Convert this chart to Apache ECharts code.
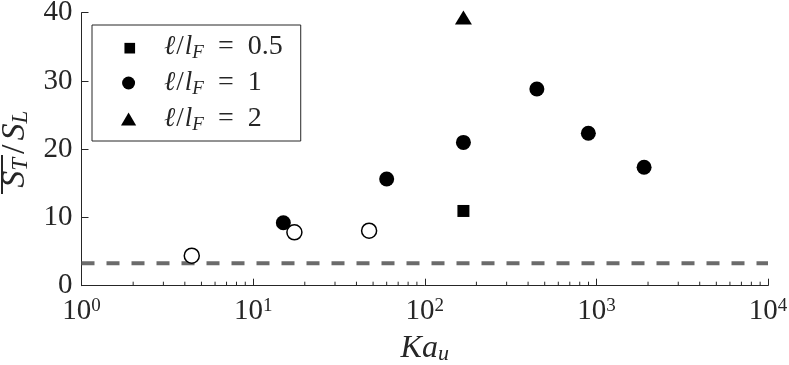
<!DOCTYPE html>
<html>
<head>
<meta charset="utf-8">
<script src="https://cdn.jsdelivr.net/npm/echarts@6/dist/echarts.min.js"></script>
<style>
  html, body { margin: 0; padding: 0; background: #fff; }
  #chart { width: 789px; height: 365px; }
</style>
</head>
<body>
<div id="chart"></div>
<script>
// values
const kaHalf = [168]
const stHalf = [10.95]
const kaOne = [15.0, 60.0, 168, 450, 898, 1897]
const stOne = [9.23, 15.63, 21.0, 28.82, 22.33, 17.35]
const kaTwo = [168]
const stTwo = [39.3]
const kaOpen = [4.39, 17.4, 47.4]
const stOpen = [4.40, 7.82, 8.06]
const refKa = [1, 10000]
const refSt = [3.3, 3.3]
const minorTicks = [2, 3, 4, 5, 6, 7, 8, 9, 20, 30, 40, 50, 60, 70, 80, 90,
  200, 300, 400, 500, 600, 700, 800, 900, 2000, 3000, 4000, 5000, 6000, 7000, 8000, 9000]

const ink = '#262626'
const serif = '"Liberation Serif", "DejaVu Serif", serif'
const zip = (xs, ys) => xs.map((x, i) => [x, ys[i]])

const chart = echarts.init(document.getElementById('chart'))

chart.setOption({
  backgroundColor: '#fff',
  animation: false,
  textStyle: { fontFamily: serif, color: ink },
  grid: { left: 81.5, right: 21, top: 12.7, bottom: 79.3, outerBoundsMode: 'none', containLabel: false },
  legend: {
    orient: 'vertical',
    left: 92,
    top: 25,
    padding: [8, 18, 7, 29],
    itemWidth: 57,
    itemHeight: 13,
    itemGap: 7,
    borderColor: ink,
    borderWidth: 1,
    backgroundColor: '#fff',
    data: [
      { name: '0.5', icon: 'path://M0,0 M2,2 L11,2 L11,11 L2,11 Z' },
      { name: '1', icon: 'circle' },
      { name: '2', icon: 'path://M7,0 L14,12 L0,12 Z' },
    ],
    formatter: (name) => `{g|}{i|ℓ}{sl|/}{i|l}{sub|F}{eq|=}{n|${name}}`,
    textStyle: {
      color: ink,
      fontFamily: serif,
      rich: {
        g: { width: 2, lineHeight: 30 },
        i: { fontFamily: serif, fontStyle: 'italic', fontSize: 27, lineHeight: 30 },
        sl: { fontFamily: serif, fontSize: 27, lineHeight: 30, padding: [0, 1, 0, 1] },
        n: { fontFamily: serif, fontSize: 28, lineHeight: 30 },
        eq: { fontFamily: serif, fontSize: 28, lineHeight: 30, padding: [0, 14, 0, 14] },
        sub: { fontFamily: serif, fontStyle: 'italic', fontSize: 19, lineHeight: 19, verticalAlign: 'bottom' },
      },
    },
  },
  xAxis: {
    type: 'log',
    logBase: 10,
    min: 1,
    max: 10000,
    name: '{i|Ka}{sub|u}',
    nameLocation: 'middle',
    nameGap: 46,
    nameTextStyle: {
      fontFamily: serif,
      rich: {
        i: { fontFamily: serif, fontStyle: 'italic', fontSize: 32, lineHeight: 34, color: ink },
        sub: { fontFamily: serif, fontStyle: 'italic', fontSize: 22, lineHeight: 22, verticalAlign: 'bottom', color: ink },
      },
    },
    axisLine: { lineStyle: { color: ink, width: 1 } },
    axisTick: { inside: true, length: 7, lineStyle: { color: ink } },
    axisLabel: {
      margin: 11,
      fontFamily: serif,
      formatter: (v) => `{b|10}{s|${Math.round(Math.log10(v))}}`,
      rich: {
        b: { fontFamily: serif, fontSize: 29, lineHeight: 30, color: ink },
        s: { fontFamily: serif, fontSize: 19, lineHeight: 19, verticalAlign: 'top', color: ink },
      },
    },
    splitLine: { show: false },
  },
  yAxis: {
    type: 'value',
    min: 0,
    max: 40,
    interval: 10,
    name: '{i|S}{sub|T}{n|/}{i|S}{sub|L}',
    nameLocation: 'middle',
    nameGap: 42,
    nameRotate: 90,
    nameTextStyle: {
      fontFamily: serif,
      rich: {
        i: { fontFamily: serif, fontStyle: 'italic', fontSize: 34, lineHeight: 36, color: ink },
        n: { fontFamily: serif, fontSize: 34, lineHeight: 36, color: ink, padding: [0, 4, 0, 4] },
        sub: { fontFamily: serif, fontStyle: 'italic', fontSize: 23, lineHeight: 23, verticalAlign: 'bottom', color: ink },
      },
    },
    axisLine: { show: true, lineStyle: { color: ink, width: 1 } },
    axisTick: { show: true, inside: true, length: 7, lineStyle: { color: ink } },
    axisLabel: { margin: 9, fontFamily: serif, fontSize: 29, color: ink },
    splitLine: { show: false },
  },
  graphic: [
    // overline over S_T in the y-axis title
    { type: 'rect', shape: { x: 1, y: 155, width: 2, height: 39 }, style: { fill: ink } },
  ],
  series: [
    {
      type: 'line',
      name: 'ref',
      data: zip(refKa, refSt),
      symbol: 'none',
      silent: true,
      z: 1,
      lineStyle: { color: '#6b6b6b', width: 4, type: [13, 12] },
    },
    {
      type: 'custom',
      name: 'minor',
      silent: true,
      data: minorTicks.map(v => [v, 0]),
      renderItem: (params, api) => {
        const p = api.coord([api.value(0), 0])
        return {
          type: 'line',
          shape: { x1: p[0], y1: p[1], x2: p[0], y2: p[1] - 4 },
          style: { stroke: ink, lineWidth: 1 },
        }
      },
      z: 3,
    },
    {
      type: 'scatter',
      name: 'open',
      data: zip(kaOpen, stOpen),
      symbol: 'circle',
      symbolSize: 15,
      itemStyle: { color: '#fff', borderColor: '#000', borderWidth: 1.5, opacity: 1 },
      z: 4,
    },
    {
      type: 'scatter',
      name: '0.5',
      data: zip(kaHalf, stHalf),
      symbol: 'rect',
      symbolSize: 12,
      itemStyle: { color: '#000', opacity: 1 },
      z: 4,
    },
    {
      type: 'scatter',
      name: '1',
      data: zip(kaOne, stOne),
      symbol: 'circle',
      symbolSize: 15,
      itemStyle: { color: '#000', opacity: 1 },
      z: 4,
    },
    {
      type: 'scatter',
      name: '2',
      data: zip(kaTwo, stTwo),
      symbol: 'triangle',
      symbolSize: [17, 14],
      itemStyle: { color: '#000', opacity: 1 },
      z: 4,
    },
  ],
})
</script>
</body>
</html>
